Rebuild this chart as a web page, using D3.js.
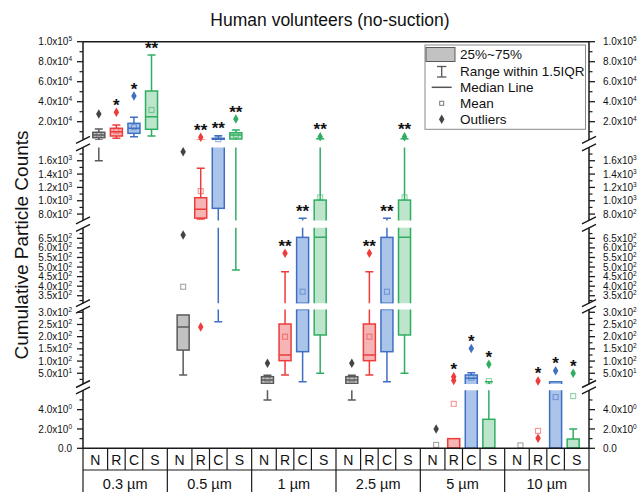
<!DOCTYPE html>
<html><head><meta charset="utf-8">
<script src="https://cdn.jsdelivr.net/npm/d3@7"></script>
<style>body{margin:0;background:#fff} svg{display:block} text{font-family:"Liberation Sans",Arial,sans-serif;fill:#111}</style>
</head><body><svg id="c" width="644" height="492"></svg>
<script>
// ---------- data ----------
const sizes = ["0.3 µm","0.5 µm","1 µm","2.5 µm","5 µm","10 µm"];
const series = ["N","R","C","S"];
const whiskerLow = [[1600,3400,5000,5700],[43,725,261,484],[5,43,15.6,50],[5,43,15.6,50],[0,0,0,0],[0,0,0,0]];
const q1 =        [[4000,5700,8400,12400],[145,740,886,2700],[8,101.6,138.5,207],[8,101.6,138.5,207],[0,0,0,0],[0,0,0,0]];
const median =    [[6700,10000,13400,25000],[240,871,2200,6700],[22,125,311,655],[22,125,311,655],[0,0,30,0],[0,0,0,0]];
const q3 =        [[9400,13400,18400,50700],[289,1045,3400,9000],[36,252,655,1010],[36,252,655,1010],[0,1,43,3],[0,0,15,0.96]];
const whiskerHigh=[[12700,16700,24400,86700],[289,1486,6000,11700],[42,475,736,3000],[42,475,736,3000],[0,1,52,15.6],[0,0,15,2]];
const means =     [[7000,11000,14500,31700],[397,1145,2500,6700],[25,200,371,1050],[25,200,371,1050],[0.35,4.6,32,17.8],[0.3,1.8,5.3,5.4]];
const outliers =  [[[27700],[29400],[45700],[]],[[667,1735],[240,4400],[],[22700]],[[91],[572],[],[5000]],[[91],[572],[],[5000]],[[2],[20,36],[152],[87]],[[],[1.03,18.5],[60],[50]]];
const stars =     [["","*","*","**"],["","**","**","**"],["","**","**","**"],["","**","**","**"],["","*","*","*"],["","*","*","*"]];
// broken y axis segments (value domains) and ticks
const segDomains = [[0,6],[6,311],[311,705],[705,1800],[1800,100000]];
const majorTicks = [[0,2,4],[50,100,150,200,250,300],[350,400,450,500,550,600,650],[800,1000,1200,1400,1600],[20000,40000,60000,80000,100000]];
const minorTicks = [[1,3,5],[25,75,125,175,225,275],[325,375,425,475,525,575,625,675],[900,1100,1300,1500,1700],[10000,30000,50000,70000,90000]];
const legendLabels = ["25%~75%","Range within 1.5IQR","Median Line","Mean","Outliers"];
const title = "Human volunteers (no-suction)";
const yTitle = "Cumulative Particle Counts";

// ---------- layout / style ----------
const L=83, R=589, T=41.7, B=448.3;
const segRanges = [[B,390.3],[384,309.6],[303.2,227.8],[220.4,147.4],[139.9,T]];
const strokeC = {N:"#5a5a5a",R:"#ee3b3b",C:"#3f6fc2",S:"#2fae62"};
const fillC   = {N:"#c2c2c2",R:"#f5b5b5",C:"#abc5ea",S:"#bde5cb"};
const outC    = {N:"#444",R:"#ee3b3b",C:"#3f6fc2",S:"#2fae62"};
const svg=d3.select("#c");
const segScales = segDomains.map((d,i)=>d3.scaleLinear().domain(d).range(segRanges[i]));
function yOf(v){ for(let i=0;i<segDomains.length;i++){ if(v<=segDomains[i][1]) return segScales[i](v);} return segScales[segScales.length-1](v);}
const xg = d3.scaleBand().domain(sizes).range([L,R]);
const xs = d3.scalePoint().domain(series).range([0,xg.bandwidth()]).padding(0.9);
const cx=(g,s)=>xg(sizes[g])+xs(series[s]);
const bw=12, capW=8;

// clip paths
const defs=svg.append("defs");
segRanges.forEach((r,i)=>{
  defs.append("clipPath").attr("id","clip"+i).append("rect")
    .attr("x",L).attr("y",r[1]).attr("width",R-L).attr("height",r[0]-r[1]+(i===0?1.5:0));
});

// boxes per segment
segScales.forEach((ys,i)=>{
  const gS=svg.append("g").attr("clip-path","url(#clip"+i+")");
  sizes.forEach((sz,g)=>series.forEach((se,s)=>{
    const x=cx(g,s), st=strokeC[se];
    const a=gS.append("g").attr("stroke",st).attr("stroke-width",1.5).attr("fill","none");
    if(whiskerHigh[g][s]>q3[g][s]){
      a.append("line").attr("x1",x).attr("x2",x).attr("y1",ys(whiskerHigh[g][s])).attr("y2",ys(q3[g][s]));
      a.append("line").attr("x1",x-capW/2).attr("x2",x+capW/2).attr("y1",ys(whiskerHigh[g][s])).attr("y2",ys(whiskerHigh[g][s]));
    }
    if(whiskerLow[g][s]<q1[g][s]){
      a.append("line").attr("x1",x).attr("x2",x).attr("y1",ys(q1[g][s])).attr("y2",ys(whiskerLow[g][s]));
      a.append("line").attr("x1",x-capW/2).attr("x2",x+capW/2).attr("y1",ys(whiskerLow[g][s])).attr("y2",ys(whiskerLow[g][s]));
    }
    if(q3[g][s]>q1[g][s]){
      a.append("rect").attr("x",x-bw/2).attr("width",bw).attr("y",ys(q3[g][s])).attr("height",ys(q1[g][s])-ys(q3[g][s])).attr("fill",fillC[se]);
      a.append("line").attr("x1",x-bw/2).attr("x2",x+bw/2).attr("y1",ys(median[g][s])).attr("y2",ys(median[g][s]));
    }
  }));
});

// means and outliers
const diamond=d3.symbol().type(d3.symbolDiamond).size(26);
sizes.forEach((sz,g)=>series.forEach((se,s)=>{
  const x=cx(g,s);
  svg.append("rect").attr("x",x-2.5).attr("y",yOf(means[g][s])-2.5).attr("width",5).attr("height",5)
    .attr("fill","none").attr("stroke",strokeC[se]).attr("stroke-opacity",0.55).attr("stroke-width",1.1);
  outliers[g][s].forEach(v=>{
    svg.append("path").attr("d",diamond).attr("transform",`translate(${x},${yOf(v)})`).attr("fill",outC[se]);
  });
  if(stars[g][s]){
    const tops=[whiskerHigh[g][s],q3[g][s],means[g][s],...outliers[g][s]].map(yOf);
    const ty=d3.min(tops)-11;
    svg.append("text").attr("x",x).attr("y",ty+9.5).attr("text-anchor","middle")
      .attr("font-size",17).attr("font-weight","bold").text(stars[g][s]);
  }
}));

// axes
const axC="#1a1a1a";
function fmt(v){
  if(v===0) return ["0.0",null];
  const e=Math.floor(Math.log10(v)+1e-9); const m=v/Math.pow(10,e);
  return [m.toFixed(1)+"x10", e];
}
[[L,-1],[R,1]].forEach(([ax,dir])=>{
  segRanges.forEach((r,i)=>{
    svg.append("line").attr("x1",ax).attr("x2",ax).attr("y1",r[0]+(i===0?0.75:0)).attr("y2",r[1]).attr("stroke",axC).attr("stroke-width",1.5);
    const ys=segScales[i];
    majorTicks[i].forEach(v=>{
      const y=ys(v);
      svg.append("line").attr("x1",ax).attr("x2",ax+dir*6).attr("y1",y).attr("y2",y).attr("stroke",axC).attr("stroke-width",1.3);
      const [t,e]=fmt(v);
      const tx=svg.append("text").attr("x",dir<0?ax-11:ax+14).attr("y",y+3.6).attr("font-size",10)
        .attr("text-anchor",dir<0?"end":"start");
      tx.append("tspan").text(t);
      if(e!==null) tx.append("tspan").attr("dy",-4).attr("font-size",6.5).text(e);
    });
    minorTicks[i].forEach(v=>{
      const y=ys(v);
      svg.append("line").attr("x1",ax).attr("x2",ax+dir*3.5).attr("y1",y).attr("y2",y).attr("stroke",axC).attr("stroke-width",1.2);
    });
    // break marks
    if(i<segRanges.length-1){
      [r[1], segRanges[i+1][0]].forEach(yb=>{
        svg.append("line").attr("x1",ax-7).attr("y1",yb+3.5).attr("x2",ax+7).attr("y2",yb-3.5).attr("stroke",axC).attr("stroke-width",1.4);
      });
    }
  });
});
// top border and x axis
svg.append("line").attr("x1",L).attr("x2",R).attr("y1",T).attr("y2",T).attr("stroke",axC).attr("stroke-width",1.5);
svg.append("line").attr("x1",L).attr("x2",R).attr("y1",B).attr("y2",B).attr("stroke",axC).attr("stroke-width",1.5);

// category table
const rowMid=470, rowBot=492;
svg.append("line").attr("x1",L).attr("x2",R).attr("y1",rowMid).attr("y2",rowMid).attr("stroke",axC).attr("stroke-width",1.2);
sizes.forEach((sz,g)=>{
  const g0=xg(sz), g1=g0+xg.bandwidth();
  const bounds=[g0];
  for(let s=0;s<series.length-1;s++) bounds.push(g0+(xs(series[s])+xs(series[s+1]))/2);
  bounds.push(g1);
  bounds.slice(1,-1).forEach(b=>svg.append("line").attr("x1",b).attr("x2",b).attr("y1",B).attr("y2",rowMid).attr("stroke",axC).attr("stroke-width",1.2));
  series.forEach((se,s)=>{
    svg.append("text").attr("x",(bounds[s]+bounds[s+1])/2).attr("y",465).attr("text-anchor","middle").attr("font-size",14).text(se);
  });
  svg.append("text").attr("x",(g0+g1)/2).attr("y",489).attr("text-anchor","middle").attr("font-size",14.5).text(sz);
});
xg.domain().forEach((sz,g)=>{
  svg.append("line").attr("x1",xg(sz)).attr("x2",xg(sz)).attr("y1",B).attr("y2",rowBot).attr("stroke",axC).attr("stroke-width",1.2);
});
svg.append("line").attr("x1",R).attr("x2",R).attr("y1",B).attr("y2",rowBot).attr("stroke",axC).attr("stroke-width",1.2);

// legend
const lg=svg.append("g");
lg.append("rect").attr("x",425).attr("y",45).attr("width",160.5).attr("height",84.3).attr("fill","#fff").attr("stroke","#8a8a8a").attr("stroke-width",1);
const lyc=[54,71.5,87.3,103.3,119.3];
lg.append("rect").attr("x",426).attr("y",47.5).attr("width",29).attr("height",14).attr("fill","#c2c2c2").attr("stroke","#5a5a5a").attr("stroke-width",1);
const lgc="#555";
lg.append("line").attr("x1",441.7).attr("x2",441.7).attr("y1",66.5).attr("y2",77).attr("stroke",lgc).attr("stroke-width",1.3);
lg.append("line").attr("x1",437).attr("x2",446.4).attr("y1",66.5).attr("y2",66.5).attr("stroke",lgc).attr("stroke-width",1.3);
lg.append("line").attr("x1",437).attr("x2",446.4).attr("y1",77).attr("y2",77).attr("stroke",lgc).attr("stroke-width",1.3);
lg.append("line").attr("x1",431.7).attr("x2",451.7).attr("y1",lyc[2]).attr("y2",lyc[2]).attr("stroke",lgc).attr("stroke-width",1.5);
lg.append("rect").attr("x",439.7).attr("y",lyc[3]-2).attr("width",4).attr("height",4).attr("fill","none").attr("stroke","#777").attr("stroke-width",1);
lg.append("path").attr("d",diamond).attr("transform",`translate(441.7,${lyc[4]})`).attr("fill","#444");
legendLabels.forEach((t,i)=>lg.append("text").attr("x",460).attr("y",lyc[i]+4.8).attr("font-size",13.5).text(t));

// titles
svg.append("text").attr("x",330).attr("y",26).attr("text-anchor","middle").attr("font-size",17.5).text(title);
svg.append("text").attr("transform","translate(28,245) rotate(-90)").attr("text-anchor","middle").attr("font-size",19).text(yTitle);
</script></body></html>
